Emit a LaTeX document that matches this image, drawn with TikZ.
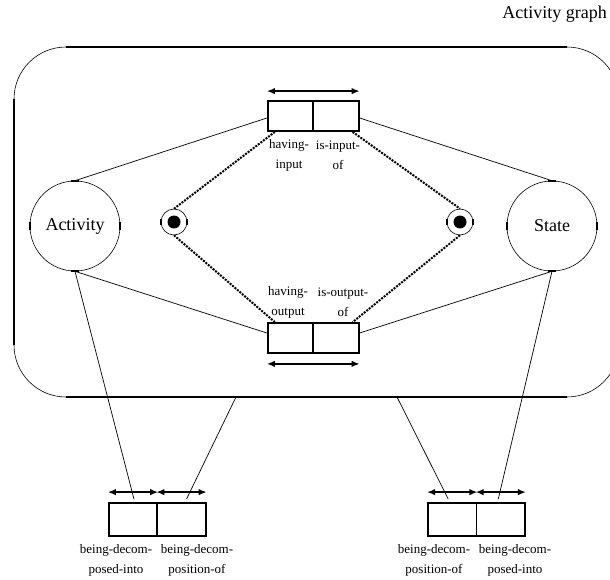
\documentclass[tikz,border=0pt]{standalone}
\usepackage{fontspec}
\setmainfont{Liberation Serif}
\usetikzlibrary{arrows.meta}
\begin{document}
\begin{tikzpicture}[x=1pt,y=-1pt,
 big/.style={font=\fontsize{18}{20}\selectfont},
 lab/.style={font=\fontsize{13}{20}\selectfont, align=center, inner sep=0pt},
 bigcirc/.style={draw, circle, minimum size=90pt, inner sep=0pt, line width=0.6pt, big},
 cell/.style={draw, rectangle, line width=1.8pt, minimum width=45.5pt, minimum height=30pt, inner sep=0pt},
 bcell/.style={cell, minimum width=48.5pt, minimum height=33pt},
 conn/.style={line width=0.7pt},
 dotl/.style={line width=2pt, dash pattern=on 2pt off 1.2pt},
 darrow/.style={line width=1.8pt, {Latex[length=8pt,width=6.5pt]}-{Latex[length=8pt,width=6.5pt]}},
 tick/.style={line width=1.8pt},
 tgt/.style={draw, circle, minimum size=26pt, inner sep=0pt, line width=0.6pt},
 frame/.style={line width=0.6pt},
 framethick/.style={line width=2pt}
]
\useasboundingbox (0,0) rectangle (610,580);
\fill[white] (0,0) rectangle (610,580);
\clip (0,0) rectangle (610,580);

% title
\node[big, anchor=east, inner sep=0pt] (title) at (607,14) {Activity graph};

% frame (rounded rectangle, right edge beyond picture)
\draw[frame, rounded corners=52pt] (14,47) rectangle (619,397);
\draw[framethick] (66,47) -- (567,47);
\draw[framethick] (66,397) -- (567,397);
\draw[framethick] (14,99) -- (14,345);
\coordinate (fA) at (236,397);
\coordinate (fB) at (397,397);

% main circles
\node[bigcirc] (act) at (75,226) {Activity};
\node[bigcirc] (st) at (552,226) {State};
\foreach \n in {act,st}{
  \draw[tick] ([xshift=-4pt]\n.north) -- ([xshift=4pt]\n.north);
  \draw[tick] ([xshift=-4pt]\n.south) -- ([xshift=4pt]\n.south);
  \draw[tick] ([yshift=-4pt]\n.west) -- ([yshift=4pt]\n.west);
  \draw[tick] ([yshift=-4pt]\n.east) -- ([yshift=4pt]\n.east);
}

% targets
\node[tgt] (tL) at (174,222) {};
\node[tgt] (tR) at (460,222) {};
\foreach \n in {tL,tR}{
  \fill (\n.center) circle (6.5pt);
  \draw[tick] ([yshift=-3pt]\n.west) -- ([yshift=3pt]\n.west);
  \draw[tick] ([yshift=-3pt]\n.east) -- ([yshift=3pt]\n.east);
}

% upper box
\node[cell] (hi) at (290.5,116) {};
\node[cell] (ii) at (336,116) {};
\draw[darrow] ([yshift=9pt]hi.north west) -- ([yshift=9pt]ii.north east);
\node[lab] (lhi) at (289,155) {having-\\input};
\node[lab] (lii) at (338,155) {is-input-\\of};

% lower box
\node[cell] (ho) at (290.5,338) {};
\node[cell] (io) at (336,338) {};
\draw[darrow] ([yshift=-10pt]ho.south west) -- ([yshift=-10pt]io.south east);
\node[lab] (lho) at (288,302) {having-\\output};
\node[lab] (lio) at (343,302) {is-output-\\of};

% bottom-left box
\node[bcell] (bl1) at (133,519.5) {};
\node[bcell] (bl2) at (181.5,519.5) {};
\draw[darrow] ([yshift=10pt]bl1.north west) -- ([yshift=10pt]bl1.north east);
\draw[darrow] ([yshift=10pt]bl2.north west) -- ([yshift=10pt]bl2.north east);
\node[lab] (lbl1) at (116,560) {being-decom-\\posed-into};
\node[lab] (lbl2) at (197,560) {being-decom-\\position-of};

% bottom-right box
\node[bcell] (br1) at (452.25,519.5) {};
\node[bcell] (br2) at (500.75,519.5) {};
\draw[darrow] ([yshift=10pt]br1.north west) -- ([yshift=10pt]br1.north east);
\draw[darrow] ([yshift=10pt]br2.north west) -- ([yshift=10pt]br2.north east);
\node[lab] (lbr1) at (434,560) {being-decom-\\position-of};
\node[lab] (lbr2) at (515,560) {being-decom-\\posed-into};

% connectors
\draw[conn] (act.north) -- ([yshift=-2pt]hi.west);
\draw[conn] (st.north) -- ([yshift=-2pt]ii.east);
\draw[conn] (act.south) -- ([yshift=5pt]ho.west);
\draw[conn] (st.south) -- ([yshift=5pt]io.east);

\draw[dotl] ([xshift=8pt]hi.south west) -- (tL.north);
\draw[dotl] ([xshift=-7pt]ii.south east) -- (tR.north);
\draw[dotl] (tL.south) -- ([xshift=8pt]ho.north west);
\draw[dotl] (tR.south) -- ([xshift=-7pt]io.north east);

\draw[conn] (act.south) -- ([xshift=1pt,yshift=3pt]bl1.north);
\draw[conn] (fA) -- ([xshift=5pt,yshift=3pt]bl2.north);
\draw[conn] (fB) -- ([xshift=-4pt,yshift=3pt]br1.north);
\draw[conn] (st.south) -- ([xshift=-2.5pt,yshift=3pt]br2.north);
\end{tikzpicture}
\end{document}
